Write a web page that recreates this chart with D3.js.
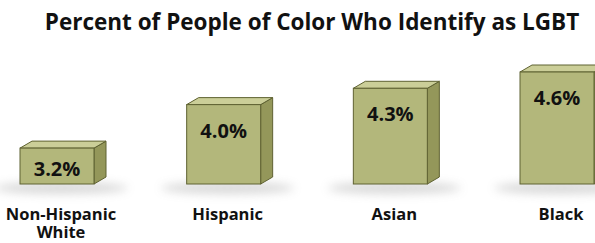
<!DOCTYPE html>
<html>
<head>
<meta charset="utf-8">
<script src="https://cdn.jsdelivr.net/npm/d3@7"></script>
<style>
  html, body { margin: 0; padding: 0; background: #fff; }
  svg { display: block; }
</style>
</head>
<body>
<svg id="chart" width="595" height="243"></svg>
<script>
// ---- data ----
const categories = ['Non-Hispanic White', 'Hispanic', 'Asian', 'Black'];
const values     = [3.2, 4.0, 4.3, 4.6];
const valueLabels = ['3.2%', '4.0%', '4.3%', '4.6%'];
const title = 'Percent of People of Color Who Identify as LGBT';

const W = 595, H = 243;
const base = 184;          // floor line of the boxes
const depth = { dx: 12, dy: 7 };

const svg = d3.select('#chart');
const font = "'Open Sans', 'DejaVu Sans', sans-serif";

const x = d3.scaleBand()
  .domain(categories)
  .range([20, 594])
  .paddingInner(0.556)
  .paddingOuter(0);

const y = d3.scaleLinear()
  .domain([2.54, 4.6])
  .range([base, 72]);

// soft shadow under the boxes
const defs = svg.append('defs');
defs.append('filter').attr('id', 'blur')
  .attr('x', '-50%').attr('y', '-200%').attr('width', '200%').attr('height', '500%')
  .append('feGaussianBlur').attr('stdDeviation', 5);

const rows = categories.map((c, i) => ({ cat: c, v: values[i], lab: valueLabels[i] }));

svg.append('g').selectAll('ellipse')
  .data(rows)
  .join('ellipse')
  .attr('cx', d => x(d.cat) + x.bandwidth() / 2 + 4)
  .attr('cy', base + 4)
  .attr('rx', x.bandwidth() * 0.9)
  .attr('ry', 6)
  .attr('fill', '#a0a0a0')
  .attr('opacity', 0.4)
  .attr('filter', 'url(#blur)');

const boxes = svg.append('g').selectAll('g')
  .data(rows)
  .join('g');

const stroke = '#5f6232';

// right side
boxes.append('path')
  .attr('d', d => {
    const x1 = x(d.cat) + x.bandwidth(), y0 = y(d.v);
    return `M${x1},${y0} L${x1 + depth.dx},${y0 - depth.dy} L${x1 + depth.dx},${base - depth.dy} L${x1},${base} Z`;
  })
  .attr('fill', '#94975a')
  .attr('stroke', stroke).attr('stroke-width', 1).attr('stroke-linejoin', 'round');

// top
boxes.append('path')
  .attr('d', d => {
    const x0 = x(d.cat), x1 = x0 + x.bandwidth(), y0 = y(d.v);
    return `M${x0},${y0} L${x0 + depth.dx},${y0 - depth.dy} L${x1 + depth.dx},${y0 - depth.dy} L${x1},${y0} Z`;
  })
  .attr('fill', '#cbce98')
  .attr('stroke', stroke).attr('stroke-width', 1).attr('stroke-linejoin', 'round');

// front
boxes.append('rect')
  .attr('x', d => x(d.cat))
  .attr('y', d => y(d.v))
  .attr('width', x.bandwidth())
  .attr('height', d => base - y(d.v))
  .attr('fill', '#b3b77b')
  .attr('stroke', stroke).attr('stroke-width', 1);

// value labels
boxes.append('text')
  .attr('x', d => x(d.cat) + x.bandwidth() / 2)
  .attr('y', d => y(d.v) + Math.min(33, (base - y(d.v)) / 2 + 10))
  .attr('text-anchor', 'middle')
  .attr('font-family', font).attr('font-weight', 700).attr('font-size', 20)
  .attr('fill', '#111')
  .text(d => d.lab);

// category labels
const catG = svg.append('g');
rows.forEach(d => {
  const words = d.cat === 'Non-Hispanic White' ? ['Non-Hispanic', 'White'] : [d.cat];
  const cx = x(d.cat) + x.bandwidth() / 2 + 4;
  const t = catG.append('text')
    .attr('x', cx)
    .attr('y', 220)
    .attr('text-anchor', 'middle')
    .attr('font-family', font).attr('font-weight', 700).attr('font-size', 16.5)
    .attr('fill', '#111');
  words.forEach((w, i) => {
    t.append('tspan')
      .attr('x', cx)
      .attr('dy', i === 0 ? 0 : 18)
      .text(w);
  });
});

// title
svg.append('text')
  .attr('x', 312).attr('y', 30)
  .attr('text-anchor', 'middle')
  .attr('font-family', font).attr('font-weight', 700).attr('font-size', 22.5)
  .attr('fill', '#111')
  .text(title);
</script>
</body>
</html>
